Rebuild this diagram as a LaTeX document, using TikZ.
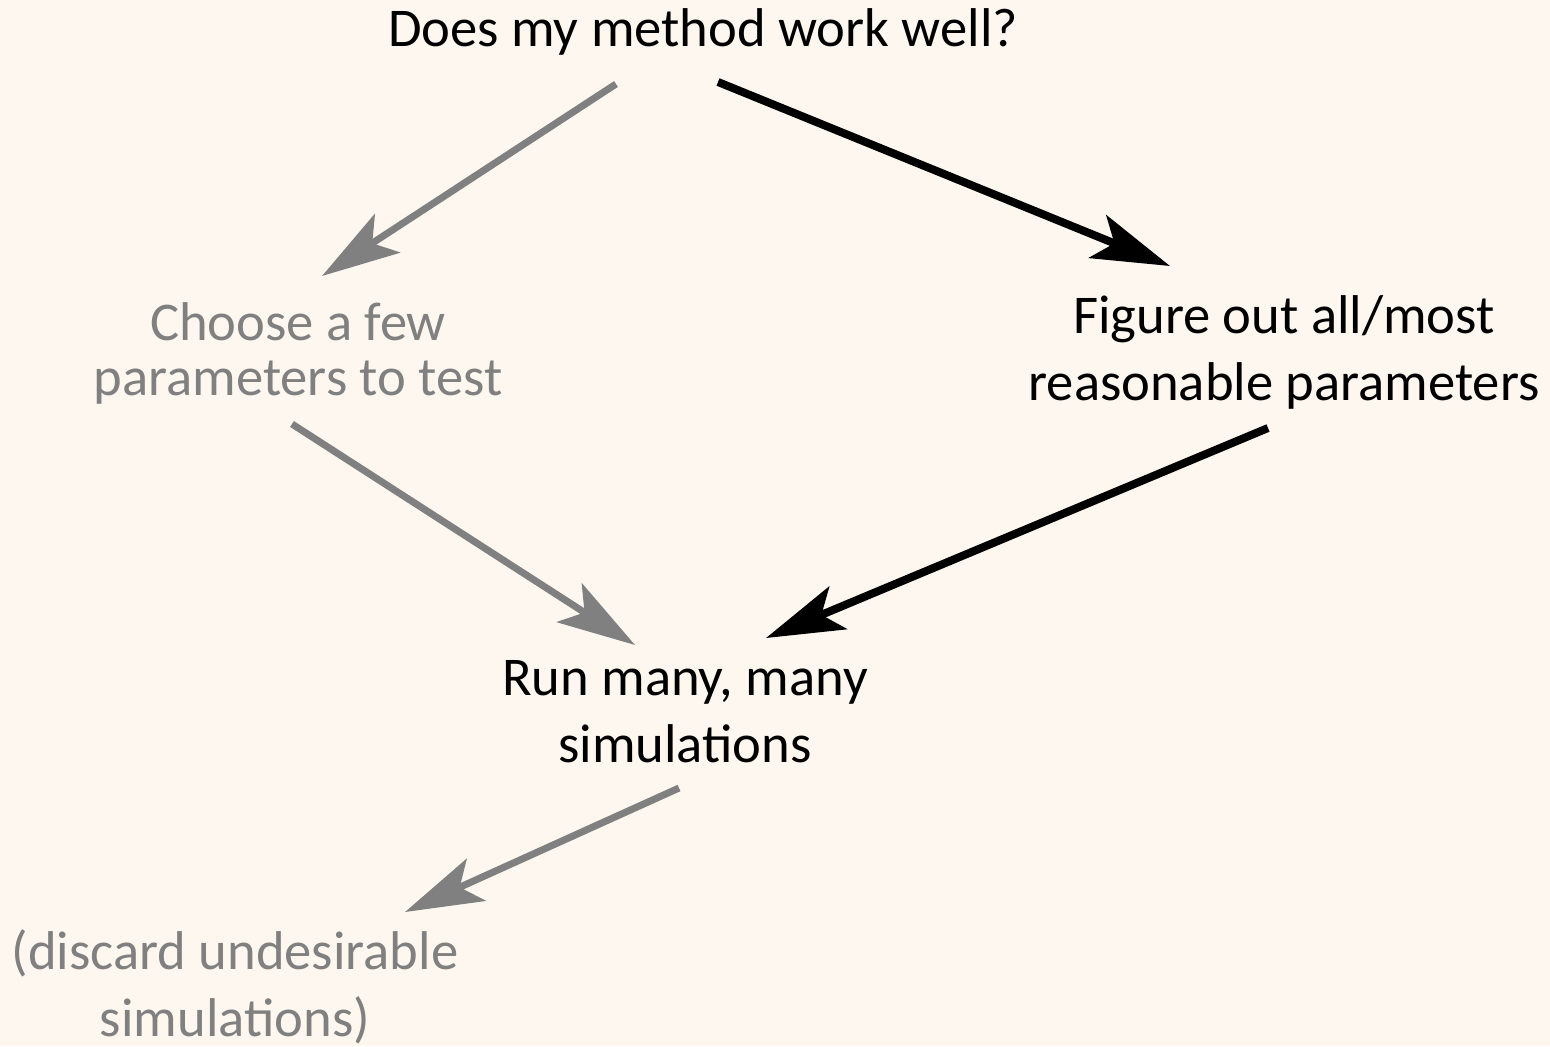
\documentclass[tikz,border=0pt]{standalone}
\usepackage{fontspec}
\setmainfont{Carlito}
\usetikzlibrary{calc,arrows.meta}
\tikzset {>={Stealth[length=39pt,width=23pt,inset=9pt]}}
\definecolor{paper}{HTML}{FDF7F0}
\definecolor{faded}{HTML}{808080}
\tikzset{
  bigtxt/.style={align=center,font=\fontsize{27.3}{33.5}\selectfont},
  smalltxt/.style={bigtxt,text=faded},
  strong/.style={->,line width=4pt,black},
  weak/.style={->,line width=3.5pt,faded}
}

\begin{document}
\begin{tikzpicture}[x=0.5pt,y=-0.5pt]

% Background
\fill [paper] (0,0) rectangle (1550,1046);
\useasboundingbox (0,0) rectangle (1550,1046);

% Place the questions and steps
\node[bigtxt] (question) at (703,32) {Does my method work well?};
\node[smalltxt,font=\fontsize{27.3}{27.5}\selectfont] (few) at (298,353) {Choose a few\\parameters to test};
\node[bigtxt] (all) at (1284,352) {Figure out all/most\\reasonable parameters};
\node[bigtxt] (run) at (685,712) {Run many, many\\simulations};
\node[smalltxt] (discard) at (235,987) {(discard undesirable\\simulations)};

% Draw the two routes
\draw [weak] ($(question)+(-87,52)$) -- ($(few)+(24,-77)$);
\draw [strong] ($(question)+(15,50)$) -- ($(all)+(-114,-86)$);
\draw [weak] ($(few)+(-6,71)$) -- ($(run)+(-50,-67)$);
\draw [strong] ($(all)+(-16,76)$) -- ($(run)+(81,-74)$);

% Draw the last step
\draw [weak] ($(run)+(-6,76)$) -- ($(discard)+(170,-75)$);
\end{tikzpicture}
\end{document}
